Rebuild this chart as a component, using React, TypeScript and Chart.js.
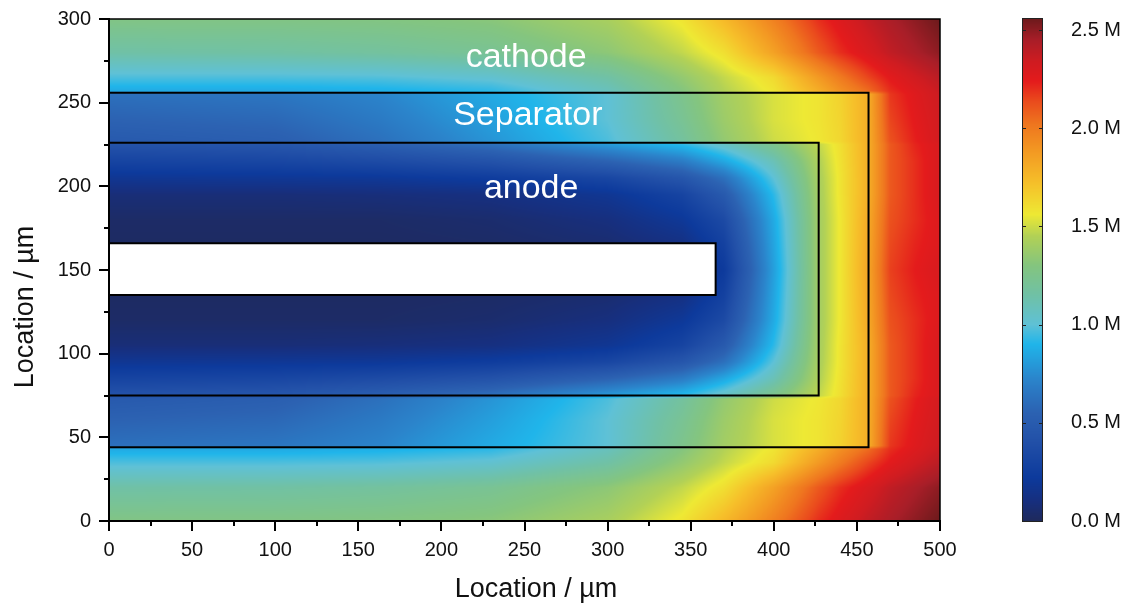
import React, { useEffect, useRef } from 'react';
import { Chart, registerables } from 'chart.js';

Chart.register(...registerables);

// ---------- data ----------
// field grid nodes (µm); upper half of the cell, mirrored about y = 150 for the lower half
const xNodes = [0, 100, 163, 230, 300, 345, 370, 400, 427, 440, 457, 470, 485, 500];
const yNodesUpper = [150, 166, 180, 195, 205, 215, 225, 227, 240, 255, 257, 265, 280, 300];
// values in M, one row per yNodesUpper entry, one column per xNodes entry
const fieldUpper = [
  [0.02, 0.02, 0.02, 0.03, 0.05, 0.10, 0.22, 0.82, 1.40, 1.57, 1.84, 2.16, 2.24, 2.30],
  [0.02, 0.02, 0.02, 0.03, 0.06, 0.12, 0.28, 0.84, 1.40, 1.57, 1.83, 2.14, 2.22, 2.28],
  [0.03, 0.03, 0.03, 0.05, 0.10, 0.20, 0.35, 0.86, 1.40, 1.57, 1.82, 2.12, 2.20, 2.28],
  [0.08, 0.08, 0.09, 0.11, 0.18, 0.30, 0.48, 0.92, 1.41, 1.58, 1.80, 2.10, 2.20, 2.30],
  [0.18, 0.19, 0.20, 0.24, 0.32, 0.45, 0.62, 1.00, 1.42, 1.58, 1.80, 2.10, 2.20, 2.30],
  [0.30, 0.32, 0.36, 0.42, 0.55, 0.68, 0.85, 1.10, 1.44, 1.59, 1.80, 2.10, 2.20, 2.30],
  [0.42, 0.45, 0.52, 0.62, 0.80, 0.92, 1.05, 1.25, 1.48, 1.60, 1.80, 2.10, 2.22, 2.30],
  [0.48, 0.52, 0.62, 0.78, 0.97, 1.18, 1.35, 1.50, 1.57, 1.63, 1.80, 2.12, 2.23, 2.32],
  [0.55, 0.58, 0.67, 0.82, 1.00, 1.22, 1.38, 1.52, 1.58, 1.64, 1.80, 2.15, 2.25, 2.33],
  [0.62, 0.65, 0.72, 0.86, 1.00, 1.25, 1.40, 1.52, 1.58, 1.65, 1.80, 2.18, 2.27, 2.35],
  [0.86, 0.86, 0.88, 0.92, 1.08, 1.30, 1.45, 1.58, 1.80, 1.92, 2.05, 2.20, 2.28, 2.36],
  [0.97, 0.97, 0.98, 1.02, 1.15, 1.35, 1.48, 1.62, 1.88, 2.00, 2.15, 2.25, 2.33, 2.40],
  [1.15, 1.16, 1.18, 1.22, 1.33, 1.48, 1.60, 1.85, 2.10, 2.20, 2.30, 2.38, 2.44, 2.50],
  [1.28, 1.28, 1.29, 1.32, 1.42, 1.58, 1.75, 1.98, 2.20, 2.28, 2.38, 2.44, 2.50, 2.56],
];

// region outlines (µm)
const separatorX = [0, 457];
const separatorY = [44, 256];
const anodeX = [0, 427];
const anodeY = [75, 226];
const collectorX = [0, 365];
const collectorY = [135, 166];

// region labels
const regionLabels = ['cathode', 'Separator', 'anode'];
const regionLabelX = [251, 252, 254];
const regionLabelY = [277, 242.5, 198.5];

// axes
const xMin = 0, xMax = 500, xStep = 50, xMinorStep = 25;
const yMin = 0, yMax = 300, yStep = 50, yMinorStep = 25;
const xAxisTitle = 'Location / µm';
const yAxisTitle = 'Location / µm';

// colour scale
const cbarMin = 0;
const cbarMax = 2.556;
const cbarStep = 0.5;
const cbarUnit = ' M';
const cmapStops = [0.00, 0.10, 0.22, 0.40, 0.55, 0.72, 0.90, 1.00, 1.15, 1.30, 1.45, 1.56, 1.72, 1.88, 2.02, 2.14, 2.24, 2.34, 2.45, 2.556];
const cmapColors = ['#1f2a5c', '#172f7e', '#0d3a9c', '#2250a8', '#2c62b2', '#2b84cb', '#20b5ea', '#5fc1d6', '#70c1a6', '#84c57f', '#b2d156', '#eee934', '#f6c02a', '#f39a23', '#ef761f', '#ea4a1d', '#e41b1c', '#cf1c21', '#a81e28', '#6e1a1c'];

// ---------- helpers ----------
const FONT = '"Liberation Sans", Arial, Helvetica, sans-serif';

function hexToRgb(h: string) {
  const n = parseInt(h.slice(1), 16);
  return [(n >> 16) & 255, (n >> 8) & 255, n & 255];
}
const cmapRgb = cmapColors.map(hexToRgb);

function colorFor(v: number) {
  if (v <= cmapStops[0]) return cmapRgb[0];
  const last = cmapStops.length - 1;
  if (v >= cmapStops[last]) return cmapRgb[last];
  let i = 0;
  while (i < last - 1 && v > cmapStops[i + 1]) i++;
  const t = (v - cmapStops[i]) / (cmapStops[i + 1] - cmapStops[i]);
  const a = cmapRgb[i], b = cmapRgb[i + 1];
  return [a[0] + (b[0] - a[0]) * t, a[1] + (b[1] - a[1]) * t, a[2] + (b[2] - a[2]) * t];
}

function locate(nodes: number[], v: number) {
  let i = 0;
  while (i < nodes.length - 2 && v > nodes[i + 1]) i++;
  let t = (v - nodes[i]) / (nodes[i + 1] - nodes[i]);
  t = Math.max(0, Math.min(1, t));
  return [i, t];
}

function rectPoints(xs: number[], ys: number[]) {
  return [
    { x: xs[0], y: ys[0] },
    { x: xs[1], y: ys[0] },
    { x: xs[1], y: ys[1] },
    { x: xs[0], y: ys[1] },
    { x: xs[0], y: ys[0] },
  ];
}

export default function App() {
  const ref = useRef<HTMLCanvasElement>(null);

  useEffect(() => {
    const canvas = ref.current;
    if (!canvas) return;

    const yNodes = [...yNodesUpper.slice(1).map((y) => 300 - y).reverse(), ...yNodesUpper];
    const rows = [...fieldUpper.slice(1).reverse(), ...fieldUpper];

    const heatPlugin = {
      id: 'heat',
      beforeDraw(chart: any) {
        const { ctx, chartArea, scales } = chart;
        const xs = scales.x, ys = scales.y;
        const left = Math.round(chartArea.left), top = Math.round(chartArea.top);
        const w = Math.round(chartArea.right) - left;
        const h = Math.round(chartArea.bottom) - top;
        const img = ctx.createImageData(w, h);
        const colInfo: number[][] = [];
        for (let px = 0; px < w; px++) colInfo.push(locate(xNodes, xs.getValueForPixel(left + px + 0.5)));
        for (let py = 0; py < h; py++) {
          const [j, ty] = locate(yNodes, ys.getValueForPixel(top + py + 0.5));
          const r0 = rows[j], r1 = rows[j + 1];
          for (let px = 0; px < w; px++) {
            const [i, tx] = colInfo[px];
            const v0 = r0[i] + (r0[i + 1] - r0[i]) * tx;
            const v1 = r1[i] + (r1[i + 1] - r1[i]) * tx;
            const c = colorFor(v0 + (v1 - v0) * ty);
            const k = (py * w + px) * 4;
            img.data[k] = c[0];
            img.data[k + 1] = c[1];
            img.data[k + 2] = c[2];
            img.data[k + 3] = 255;
          }
        }
        ctx.putImageData(img, left, top);
      },
      afterDraw(chart: any) {
        const { ctx, chartArea, scales } = chart;
        const xs = scales.x, ys = scales.y, cs = scales.y2;
        ctx.save();
        // region labels
        ctx.fillStyle = '#ffffff';
        ctx.font = `34px ${FONT}`;
        ctx.textAlign = 'center';
        ctx.textBaseline = 'middle';
        regionLabels.forEach((t, i) => {
          ctx.fillText(t, xs.getPixelForValue(regionLabelX[i]), ys.getPixelForValue(regionLabelY[i]));
        });
        // axis titles
        ctx.fillStyle = '#111';
        ctx.font = `27px ${FONT}`;
        ctx.textBaseline = 'alphabetic';
        ctx.textAlign = 'center';
        ctx.fillText(xAxisTitle, 536, 597);
        ctx.save();
        ctx.translate(33, 307);
        ctx.rotate(-Math.PI / 2);
        ctx.fillText(yAxisTitle, 0, 0);
        ctx.restore();
        // minor ticks
        ctx.strokeStyle = '#000';
        ctx.lineWidth = 2;
        ctx.beginPath();
        for (let v = xMin + xMinorStep; v < xMax; v += xStep) {
          const p = Math.round(xs.getPixelForValue(v));
          ctx.moveTo(p, chartArea.bottom);
          ctx.lineTo(p, chartArea.bottom + 5);
        }
        for (let v = yMin + yMinorStep; v < yMax; v += yStep) {
          const p = Math.round(ys.getPixelForValue(v));
          ctx.moveTo(chartArea.left, p);
          ctx.lineTo(chartArea.left - 5, p);
        }
        ctx.stroke();
        // top and right frame
        ctx.lineWidth = 1.5;
        ctx.beginPath();
        ctx.moveTo(chartArea.left, chartArea.top);
        ctx.lineTo(chartArea.right, chartArea.top);
        ctx.lineTo(chartArea.right, chartArea.bottom);
        ctx.stroke();
        // colour bar
        const bx = 1023, bw = 19;
        const bTop = Math.round(cs.top), bBot = Math.round(cs.bottom);
        for (let py = bTop; py < bBot; py++) {
          const c = colorFor(cs.getValueForPixel(py + 0.5));
          ctx.fillStyle = `rgb(${c[0] | 0},${c[1] | 0},${c[2] | 0})`;
          ctx.fillRect(bx, py, bw, 1);
        }
        ctx.strokeStyle = '#222';
        ctx.lineWidth = 1;
        ctx.strokeRect(bx - 0.5, bTop - 0.5, bw + 1, bBot - bTop + 1);
        ctx.beginPath();
        for (let v = cbarMin + cbarStep; v < cbarMax; v += cbarStep) {
          const p = Math.round(cs.getPixelForValue(v)) + 0.5;
          ctx.moveTo(bx, p);
          ctx.lineTo(bx + 3, p);
          ctx.moveTo(bx + bw, p);
          ctx.lineTo(bx + bw - 3, p);
        }
        ctx.stroke();
        ctx.restore();
      },
    };

    const lineDs = (pts: any[], extra: any = {}) => ({
      data: pts,
      showLine: true,
      borderColor: '#000',
      borderWidth: 2,
      pointRadius: 0,
      fill: false,
      ...extra,
    });

    const chart = new Chart(canvas, {
      type: 'scatter',
      data: {
        datasets: [
          lineDs(rectPoints(separatorX, separatorY)),
          lineDs(rectPoints(anodeX, anodeY)),
          lineDs(rectPoints(collectorX, collectorY), { fill: 'shape', backgroundColor: '#ffffff' }),
        ],
      },
      options: {
        animation: false,
        responsive: false,
        layout: { padding: { top: 19, left: 0, right: 0, bottom: 0 } },
        plugins: { legend: { display: false }, tooltip: { enabled: false } },
        font: { family: FONT },
        scales: {
          x: {
            type: 'linear',
            position: 'bottom',
            min: xMin,
            max: xMax,
            afterFit: (s: any) => { s.height = 82; },
            ticks: { stepSize: xStep, includeBounds: false, maxRotation: 0, autoSkip: false, padding: 9, color: '#111', font: { family: FONT, size: 20, lineHeight: 1 } },
            grid: { display: true, drawOnChartArea: false, drawTicks: true, tickLength: 10, color: '#000', lineWidth: 2 },
            border: { display: true, color: '#000', width: 2 },
            title: { display: false },
          },
          y: {
            type: 'linear',
            position: 'left',
            min: yMin,
            max: yMax,
            afterFit: (s: any) => { s.width = 109; },
            ticks: { stepSize: yStep, includeBounds: false, autoSkip: false, padding: 8, color: '#111', font: { family: FONT, size: 20, lineHeight: 1 } },
            grid: { display: true, drawOnChartArea: false, drawTicks: true, tickLength: 10, color: '#000', lineWidth: 2 },
            border: { display: true, color: '#000', width: 2 },
            title: { display: false },
          },
          y2: {
            type: 'linear',
            position: 'right',
            min: cbarMin,
            max: cbarMax,
            afterFit: (s: any) => { s.width = 188; },
            ticks: {
              stepSize: cbarStep,
              includeBounds: false,
              autoSkip: false,
              padding: 4,
              color: '#111',
              font: { family: FONT, size: 20, lineHeight: 1 },
              callback: (v: any) => Number(v).toFixed(1) + cbarUnit,
            },
            grid: { display: false, drawTicks: true, tickLength: 127 },
            border: { display: false },
          },
        },
      } as any,
      plugins: [heatPlugin],
    });

    return () => chart.destroy();
  }, []);

  return (
    <div style={{ position: 'fixed', left: 0, top: 0, width: 1128, height: 603, background: '#fff' }}>
      <canvas ref={ref} width={1128} height={603} style={{ display: 'block' }} />
    </div>
  );
}
